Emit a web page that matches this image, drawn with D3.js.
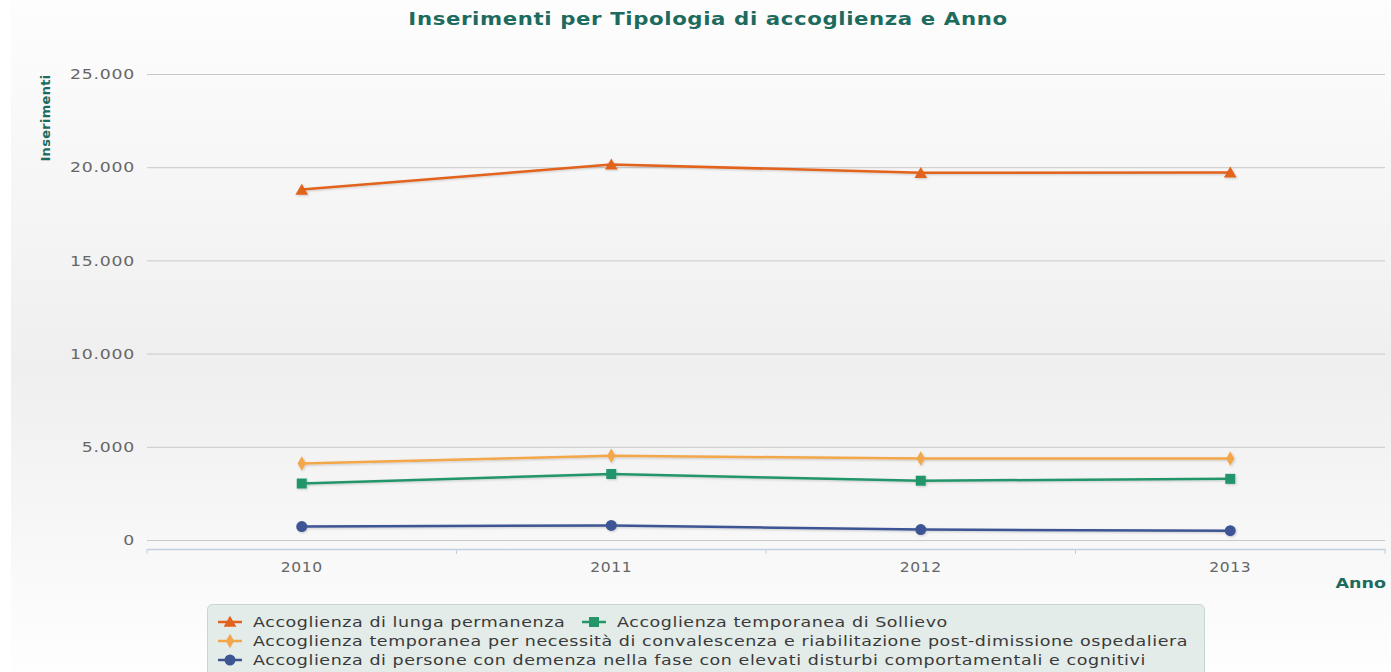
<!DOCTYPE html>
<html>
<head>
<meta charset="utf-8">
<script src="https://cdn.jsdelivr.net/npm/d3@7/dist/d3.min.js"></script>
<style>
  html, body { margin: 0; padding: 0; background: #ffffff; }
  svg { display: block; }
  text { font-family: "DejaVu Sans", Verdana, sans-serif; }
</style>
</head>
<body>
<svg id="chart" width="1391" height="672"></svg>
<script>
// Anni sull'asse delle categorie
const years = ["2010", "2011", "2012", "2013"];

// Inserimenti per tipologia di accoglienza
const lungaPermanenza = [18800, 20150, 19700, 19720];
const sollievo = [3030, 3540, 3180, 3280];
const convalescenza = [4100, 4520, 4370, 4370];
const demenza = [720, 780, 560, 500];

// Etichette dell'asse dei valori
const yTicks = [0, 5000, 10000, 15000, 20000, 25000];

const seriesNames = [
  "Accoglienza di lunga permanenza",
  "Accoglienza temporanea di Sollievo",
  "Accoglienza temporanea per necessità di convalescenza e riabilitazione post-dimissione ospedaliera",
  "Accoglienza di persone con demenza nella fase con elevati disturbi comportamentali e cognitivi"
];
const seriesColors = ["#e2631d", "#24966a", "#f3a74b", "#3e5594"];
const seriesSymbols = [d3.symbolTriangle, d3.symbolSquare, d3.symbolDiamond, d3.symbolCircle];
const seriesSizes = [70, 100, 60, 95];

const series = [lungaPermanenza, sollievo, convalescenza, demenza].map((values, i) => ({
  name: seriesNames[i], color: seriesColors[i], symbol: seriesSymbols[i], size: seriesSizes[i],
  values: values.map((v, j) => ({ year: years[j], value: v }))
}));

const W = 1391, H = 672;
const plot = { left: 147, right: 1385, top: 74, bottom: 540 };
const stretch = 1.25; // larghezza dei caratteri
const svg = d3.select("#chart");

// Sfondo con sfumatura verticale
const defs = svg.append("defs");
const grad = defs.append("linearGradient").attr("id", "bg").attr("x1", 0).attr("y1", 0).attr("x2", 0).attr("y2", 1);
grad.append("stop").attr("offset", "0%").attr("stop-color", "#fdfdfd");
grad.append("stop").attr("offset", "55%").attr("stop-color", "#efefef");
grad.append("stop").attr("offset", "100%").attr("stop-color", "#fefefe");
const shadow = defs.append("filter").attr("id", "shadow").attr("x", "-5%").attr("y", "-50%").attr("width", "110%").attr("height", "200%");
shadow.append("feDropShadow").attr("dx", 1).attr("dy", 1).attr("stdDeviation", 1).attr("flood-color", "#000").attr("flood-opacity", 0.18);

svg.append("rect").attr("x", 11).attr("y", 0).attr("width", W - 11).attr("height", H).attr("fill", "url(#bg)");

const x = d3.scaleBand().domain(years).range([plot.left, plot.right]);
const y = d3.scaleLinear().domain([0, 25000]).range([plot.bottom, plot.top]);
const itFormat = d3.formatLocale({ decimal: ",", thousands: ".", grouping: [3], currency: ["€", ""] }).format(",d");

// Testo allargato orizzontalmente attorno al punto di ancoraggio
function wideText(parent, tx, ty, str, sx) {
  return parent.append("text")
    .attr("transform", `translate(${tx},${ty}) scale(${sx},1)`)
    .text(str);
}

// Griglia orizzontale ed etichette dell'asse Y
const yAxis = svg.append("g").attr("transform", `translate(${plot.left},0)`)
  .call(d3.axisLeft(y).tickValues(yTicks).tickFormat(itFormat).tickSize(-(plot.right - plot.left)).tickPadding(12));
yAxis.select(".domain").remove();
yAxis.selectAll(".tick line").attr("stroke", "#c9c9c9").attr("stroke-width", 1);
yAxis.selectAll(".tick text").attr("fill", "#666").attr("font-size", 13.5).attr("letter-spacing", "0.6px")
  .attr("dy", "0.35em").attr("x", -12 / 1.28).attr("transform", "scale(1.28,1)");

// Asse delle categorie
const xAxisY = 549;
const xAxis = svg.append("g").attr("transform", `translate(0,${xAxisY})`)
  .call(d3.axisBottom(x).tickSize(0).tickPadding(13));
xAxis.select(".domain").attr("stroke", "#c0d0e0").attr("stroke-width", 1.5);
xAxis.selectAll(".tick text").attr("fill", "#666").attr("font-size", 13.5).attr("letter-spacing", "0.6px")
  .attr("transform", "scale(1.15,1)");
svg.append("g").selectAll("line")
  .data(years.map(yr => x(yr)).concat([plot.right]))
  .join("line")
  .attr("x1", d => d).attr("x2", d => d)
  .attr("y1", xAxisY).attr("y2", xAxisY + 5)
  .attr("stroke", "#c0d0e0").attr("stroke-width", 1);

// Titoli
wideText(svg, 708, 25, "Inserimenti per Tipologia di accoglienza e Anno", stretch)
  .attr("text-anchor", "middle").attr("font-size", 17).attr("font-weight", "bold")
  .attr("fill", "#1d6b5e").attr("letter-spacing", "0.5px");
svg.append("text").attr("transform", "translate(50,118) rotate(-90)").attr("text-anchor", "middle")
  .attr("font-size", 13).attr("font-weight", "bold").attr("fill", "#1d6b5e").attr("letter-spacing", "0.3px")
  .text("Inserimenti");
wideText(svg, 1386, 588, "Anno", stretch)
  .attr("text-anchor", "end").attr("font-size", 14).attr("font-weight", "bold").attr("fill", "#1d6b5e");

// Linee e marcatori
const cx = d => x(d.year) + x.bandwidth() / 2;
const line = d3.line().x(cx).y(d => y(d.value));
const gSeries = svg.append("g").selectAll("g").data(series).join("g").attr("filter", "url(#shadow)");
gSeries.append("path")
  .attr("d", s => line(s.values))
  .attr("fill", "none").attr("stroke", s => s.color).attr("stroke-width", 2.5).attr("stroke-linejoin", "round");
gSeries.each(function (s) {
  d3.select(this).selectAll(".pt").data(s.values).join("path").attr("class", "pt")
    .attr("transform", d => `translate(${cx(d)},${y(d.value) + (s.symbol === d3.symbolTriangle ? 1.5 : 0)})`)
    .attr("d", d3.symbol().type(s.symbol).size(s.size)())
    .attr("fill", s.color);
});

// Legenda
const legend = svg.append("g");
legend.append("rect").attr("x", 207.5).attr("y", 604.5).attr("width", 997).attr("height", 80).attr("rx", 5)
  .attr("fill", "#e3ece9").attr("stroke", "#c9d5d1");
const legendPos = [
  { x: 218, y: 622 }, { x: 582, y: 622 }, { x: 218, y: 641 }, { x: 218, y: 660 }
];
series.forEach((s, i) => {
  const p = legendPos[i];
  const g = legend.append("g").attr("transform", `translate(${p.x},${p.y})`);
  g.append("line").attr("x1", 0).attr("x2", 24).attr("y1", 0).attr("y2", 0).attr("stroke", s.color).attr("stroke-width", 2.5);
  g.append("path").attr("transform", `translate(12,${s.symbol === d3.symbolTriangle ? 1 : 0})`)
    .attr("d", d3.symbol().type(s.symbol).size(s.size)()).attr("fill", s.color);
  wideText(g, 35, 0, s.name, stretch).attr("dy", "0.35em")
    .attr("font-size", 14).attr("fill", "#3a3a3a").attr("letter-spacing", "0.45px");
});
</script>
</body>
</html>
